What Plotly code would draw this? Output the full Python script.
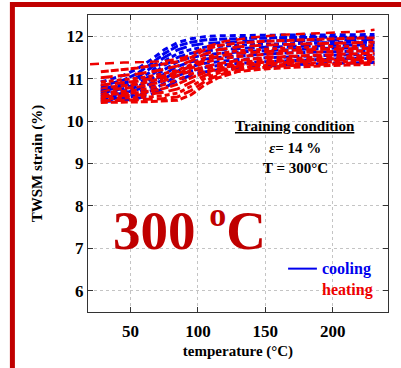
import plotly.graph_objects as go

# Temperature sampling points (°C) shared by the cycle curves
temperature = [28, 35, 45, 55, 65, 75, 85, 95, 105, 115, 130, 150, 170, 190, 210, 231]

# Heating branches, TWSM strain (%)
heating = [
    [10.44, 10.44, 10.45, 10.45, 10.46, 10.47, 10.49, 10.62, 10.85, 11.02, 11.17, 11.23, 11.27, 11.30, 11.32, 11.34],
    [10.48, 10.48, 10.49, 10.50, 10.51, 10.53, 10.57, 10.72, 10.93, 11.08, 11.21, 11.27, 11.31, 11.34, 11.36, 11.38],
    [10.52, 10.53, 10.54, 10.55, 10.57, 10.60, 10.66, 10.82, 11.00, 11.13, 11.25, 11.31, 11.35, 11.38, 11.40, 11.42],
    [10.57, 10.58, 10.59, 10.61, 10.64, 10.68, 10.76, 10.92, 11.07, 11.18, 11.29, 11.35, 11.39, 11.42, 11.44, 11.46],
    [10.62, 10.63, 10.65, 10.67, 10.71, 10.77, 10.87, 11.02, 11.14, 11.23, 11.33, 11.39, 11.43, 11.46, 11.48, 11.50],
    [10.67, 10.68, 10.70, 10.73, 10.78, 10.86, 10.97, 11.11, 11.21, 11.29, 11.38, 11.44, 11.48, 11.51, 11.53, 11.55],
    [10.72, 10.74, 10.76, 10.80, 10.86, 10.95, 11.07, 11.19, 11.28, 11.35, 11.43, 11.49, 11.53, 11.56, 11.58, 11.60],
    [10.78, 10.80, 10.83, 10.87, 10.94, 11.02, 11.12, 11.25, 11.38, 11.46, 11.52, 11.57, 11.61, 11.63, 11.65, 11.66],
    [10.85, 10.87, 10.90, 10.94, 11.00, 11.07, 11.16, 11.29, 11.44, 11.53, 11.60, 11.64, 11.67, 11.69, 11.71, 11.72],
    [10.92, 10.94, 10.97, 11.01, 11.06, 11.12, 11.20, 11.33, 11.49, 11.59, 11.66, 11.70, 11.73, 11.75, 11.77, 11.78],
    [11.02, 11.04, 11.07, 11.11, 11.16, 11.22, 11.30, 11.42, 11.58, 11.68, 11.75, 11.79, 11.81, 11.83, 11.85, 11.86],
    [11.16, 11.18, 11.21, 11.25, 11.30, 11.35, 11.40, 11.50, 11.68, 11.78, 11.84, 11.88, 11.91, 11.93, 11.95, 11.96],
]

# Uppermost heating branch, sampled on its own temperatures
temperature_top = [20, 30, 45, 60, 75, 90, 105, 120, 140, 160, 180, 200, 220, 231]
heating_top = [11.34, 11.36, 11.38, 11.39, 11.41, 11.50, 11.74, 11.88, 11.97, 12.03, 12.06, 12.08, 12.11, 12.15]

# Cooling branches, TWSM strain (%)
cooling = [
    [10.46, 10.47, 10.49, 10.53, 10.62, 10.78, 10.96, 11.08, 11.16, 11.21, 11.26, 11.30, 11.33, 11.35, 11.37, 11.38],
    [10.50, 10.52, 10.55, 10.60, 10.71, 10.89, 11.07, 11.18, 11.26, 11.31, 11.36, 11.40, 11.43, 11.45, 11.47, 11.48],
    [10.54, 10.56, 10.60, 10.67, 10.80, 11.00, 11.18, 11.29, 11.36, 11.40, 11.45, 11.49, 11.52, 11.54, 11.56, 11.57],
    [10.58, 10.61, 10.66, 10.74, 10.89, 11.11, 11.29, 11.40, 11.46, 11.50, 11.54, 11.58, 11.61, 11.63, 11.65, 11.66],
    [10.62, 10.65, 10.71, 10.81, 10.98, 11.21, 11.40, 11.50, 11.56, 11.59, 11.63, 11.66, 11.69, 11.71, 11.72, 11.73],
    [10.66, 10.70, 10.77, 10.88, 11.07, 11.31, 11.50, 11.60, 11.65, 11.68, 11.71, 11.74, 11.76, 11.78, 11.79, 11.80],
    [10.70, 10.75, 10.83, 10.96, 11.16, 11.41, 11.59, 11.69, 11.74, 11.76, 11.79, 11.81, 11.83, 11.85, 11.86, 11.86],
    [10.75, 10.80, 10.89, 11.03, 11.25, 11.50, 11.68, 11.78, 11.83, 11.85, 11.87, 11.89, 11.90, 11.91, 11.92, 11.92],
    [10.82, 10.88, 10.97, 11.12, 11.34, 11.59, 11.77, 11.86, 11.91, 11.93, 11.95, 11.96, 11.97, 11.97, 11.98, 11.98],
    [10.92, 10.98, 11.08, 11.23, 11.44, 11.68, 11.85, 11.94, 11.99, 12.01, 12.02, 12.03, 12.03, 12.03, 12.04, 12.04],
]

x_ticks = [50, 100, 150, 200]
y_ticks = [6, 7, 8, 9, 10, 11, 12]

RED = "#ee0000"
BLUE = "#0000ee"
DARK_RED = "#c00000"
SERIF = "'Times New Roman', 'Liberation Serif', Times, serif"
dashes = ["7px,3px", "10px,4px", "5px,3px", "12px,5px", "8px,2px", "6px,4px", "9px,3px"]

fig = go.Figure()

n = max(len(heating), len(cooling))
for i in range(n):
    if i < len(cooling):
        fig.add_trace(go.Scatter(
            x=temperature, y=cooling[i], mode="lines",
            line=dict(color=BLUE, width=3, dash=dashes[(i + 3) % len(dashes)]),
            showlegend=False, hoverinfo="skip"))
    if i < len(heating):
        fig.add_trace(go.Scatter(
            x=temperature, y=heating[i], mode="lines",
            line=dict(color=RED, width=3, dash=dashes[i % len(dashes)]),
            showlegend=False, hoverinfo="skip"))

fig.add_trace(go.Scatter(
    x=temperature_top, y=heating_top, mode="lines",
    line=dict(color=RED, width=2.5, dash="9px,6px"),
    showlegend=False, hoverinfo="skip"))

axis_common = dict(
    showline=True, linecolor="#333333", linewidth=1.2, mirror="ticks",
    ticks="inside", ticklen=5, tickcolor="#333333",
    showgrid=True, gridcolor="#c4c4c4", griddash="dot", gridwidth=1,
    zeroline=False,
    tickfont=dict(family=SERIF, size=17, color="black", weight="bold"),
)

fig.update_xaxes(
    range=[18.5, 241], tickvals=x_ticks, ticklabelstandoff=3,
    title=dict(text="temperature (°C)", standoff=5,
               font=dict(family=SERIF, size=15, color="black", weight="bold")),
    **axis_common)
fig.update_yaxes(
    range=[5.5, 12.5], tickvals=y_ticks,
    title=dict(text="TWSM strain (%)", standoff=20,
               font=dict(family=SERIF, size=15, color="black", weight="bold")),
    **axis_common)

annotations = [
    dict(x=0.69, y=0.625, text="<b><u>Training condition</u></b>", font=dict(size=15)),
    dict(x=0.69, y=0.552, text="<b><i>ε</i>= 14 %</b>", font=dict(size=15)),
    dict(x=0.69, y=0.485, text="<b>T = 300°C</b>", font=dict(size=15)),
    dict(x=0.337, y=0.282,
         text="<b>300 <sup><span style='font-size:34px'>o</span></sup>C</b>",
         font=dict(size=55, color=DARK_RED)),
    dict(x=0.773, y=0.146, text="<b>cooling</b>", xanchor="left", font=dict(size=16, color=BLUE)),
    dict(x=0.773, y=0.073, text="<b>heating</b>", xanchor="left", font=dict(size=16, color=RED)),
]
for a in annotations:
    a.setdefault("xanchor", "center")
    a["font"].setdefault("color", "black")
    a["font"]["family"] = SERIF
    fig.add_annotation(xref="paper", yref="paper", yanchor="middle", showarrow=False, **a)

shapes = [
    # legend sample line
    dict(type="line", xref="paper", yref="paper", x0=0.667, x1=0.763, y0=0.146, y1=0.146,
         line=dict(color=BLUE, width=2)),
    # page frame
    dict(type="rect", xref="paper", yref="paper", x0=-0.252, x1=1.2, y0=1.035, y1=-0.3,
         line=dict(color=DARK_RED, width=5), fillcolor="rgba(0,0,0,0)", layer="above"),
]
for s in shapes:
    fig.add_shape(**s)

fig.update_layout(
    width=401, height=368,
    margin=dict(l=88, r=13, t=15, b=52),
    paper_bgcolor="white", plot_bgcolor="white",
    showlegend=False,
)

fig.write_html("out.html")
